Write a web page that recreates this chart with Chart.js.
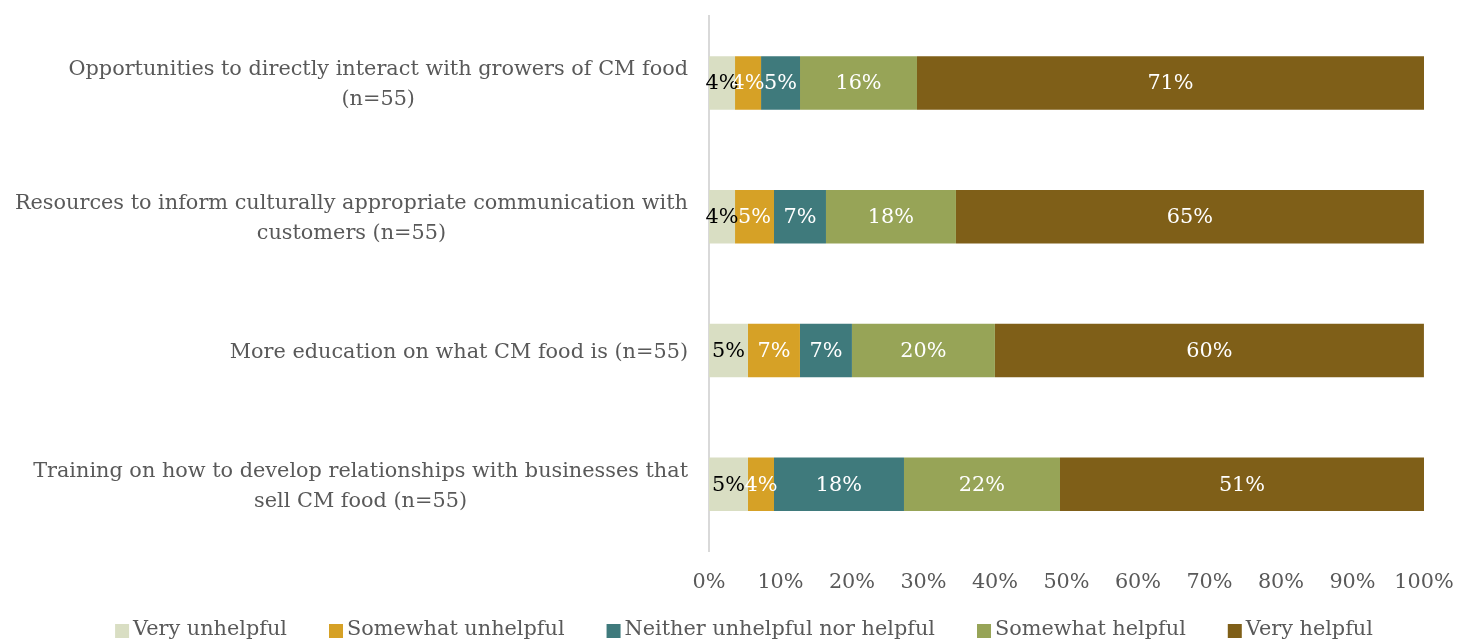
<!DOCTYPE html>
<html>
<head>
<meta charset="utf-8">
<script src="https://cdn.jsdelivr.net/npm/chart.js@4"></script>
<style>
  html, body { margin: 0; padding: 0; background: #fff; }
  #wrap { width: 1457px; height: 643px; }
</style>
</head>
<body>
<div id="wrap"><canvas id="chart"></canvas></div>
<script>
// categories (one array of lines per bar)
var categories = [
  ['Opportunities to directly interact with growers of CM food', '(n=55)'],
  ['Resources to inform culturally appropriate communication with', 'customers (n=55)'],
  ['More education on what CM food is (n=55)'],
  ['Training on how to develop relationships with businesses that', 'sell CM food (n=55)']
];

// percent of respondents, n=55
var veryUnhelpful     = [3.64, 3.64, 5.45, 5.45];
var somewhatUnhelpful = [3.64, 5.45, 7.27, 3.64];
var neither           = [5.45, 7.27, 7.27, 18.18];
var somewhatHelpful   = [16.36, 18.18, 20.00, 21.82];
var veryHelpful       = [70.91, 65.45, 60.00, 50.91];

var seriesNames = ['Very unhelpful', 'Somewhat unhelpful', 'Neither unhelpful nor helpful', 'Somewhat helpful', 'Very helpful'];
var xTicks = [0, 10, 20, 30, 40, 50, 60, 70, 80, 90, 100];

var FONT = '"DejaVu Serif", serif';
var FSIZE = 20.8;
var GREY = '#595959';

var colors = ['#D9DEC3', '#D6A126', '#3F7A7C', '#97A457', '#7F5F18'];
var labelColors = ['#000000', '#ffffff', '#ffffff', '#ffffff', '#ffffff'];

var datasets = [veryUnhelpful, somewhatUnhelpful, neither, somewhatHelpful, veryHelpful].map(function(d, i) {
  return {
    label: seriesNames[i],
    data: d,
    backgroundColor: colors[i],
    borderWidth: 0,
    categoryPercentage: 1,
    barPercentage: 0.4
  };
});

// percentage text in the middle of every segment
var segmentLabels = {
  id: 'segmentLabels',
  afterDatasetsDraw: function(chart) {
    var ctx = chart.ctx;
    ctx.save();
    ctx.font = FSIZE + 'px ' + FONT;
    ctx.textAlign = 'center';
    ctx.textBaseline = 'middle';
    chart.data.datasets.forEach(function(ds, di) {
      var meta = chart.getDatasetMeta(di);
      ctx.fillStyle = labelColors[di];
      meta.data.forEach(function(bar, i) {
        var x = (bar.x + bar.base) / 2;
        ctx.fillText(Math.round(ds.data[i]) + '%', x, bar.y + 1);
      });
    });
    ctx.restore();
  }
};

// category labels: block right aligned to the axis, lines centred inside it
var categoryLabels = {
  id: 'categoryLabels',
  afterDraw: function(chart) {
    var ctx = chart.ctx;
    var yScale = chart.scales.y;
    var right = chart.chartArea.left - 21;
    ctx.save();
    ctx.font = FSIZE + 'px ' + FONT;
    ctx.fillStyle = GREY;
    ctx.textAlign = 'center';
    ctx.textBaseline = 'middle';
    categories.forEach(function(lines, i) {
      var y = yScale.getPixelForValue(i) + 2;
      var w = Math.max.apply(null, lines.map(function(l) { return ctx.measureText(l).width; }));
      var lh = 30;
      var top = y - (lines.length - 1) * lh / 2;
      lines.forEach(function(l, j) {
        ctx.fillText(l, right - w / 2, top + j * lh);
      });
    });
    ctx.restore();
  }
};

// legend row under the axis, laid out like the original
var bottomLegend = {
  id: 'bottomLegend',
  afterDraw: function(chart) {
    var ctx = chart.ctx;
    var box = 14, textGap = 4, itemGap = 42;
    var cy = chart.height - 13;
    ctx.save();
    ctx.font = FSIZE + 'px ' + FONT;
    ctx.textBaseline = 'middle';
    ctx.textAlign = 'left';
    var widths = seriesNames.map(function(n) { return ctx.measureText(n).width; });
    var total = widths.reduce(function(a, w) { return a + box + textGap + w; }, 0) + itemGap * (seriesNames.length - 1);
    var x = 744 - total / 2;
    seriesNames.forEach(function(n, i) {
      ctx.fillStyle = colors[i];
      ctx.fillRect(x, cy - box / 2 + 1, box, box);
      ctx.fillStyle = GREY;
      ctx.fillText(n, x + box + textGap, cy);
      x += box + textGap + widths[i] + itemGap;
    });
    ctx.restore();
  }
};

new Chart(document.getElementById('chart'), {
  type: 'bar',
  data: {
    labels: categories.map(function(c) { return c.join(' '); }),
    datasets: datasets
  },
  options: {
    indexAxis: 'y',
    responsive: true,
    maintainAspectRatio: false,
    animation: false,
    layout: { padding: { left: 0, right: 33, top: 16, bottom: 29 } },
    scales: {
      x: {
        stacked: true,
        min: 0,
        max: 100,
        afterBuildTicks: function(scale) {
          scale.ticks = xTicks.map(function(v) { return { value: v }; });
        },
        afterFit: function(scale) {
          scale.paddingLeft = 0;
          scale.paddingRight = 0;
        },
        grid: { display: false, drawTicks: false },
        border: { display: false },
        ticks: {
          padding: 19,
          color: GREY,
          font: { family: FONT, size: FSIZE },
          maxRotation: 0,
          callback: function(v) { return v + '%'; }
        }
      },
      y: {
        stacked: true,
        afterFit: function(scale) { scale.width = 709; },
        grid: { display: false, drawTicks: false },
        border: { display: true, color: '#D9D9D9', width: 2 },
        ticks: { display: false }
      }
    },
    plugins: {
      tooltip: { enabled: false },
      legend: { display: false }
    }
  },
  plugins: [segmentLabels, categoryLabels, bottomLegend]
});
</script>
</body>
</html>
